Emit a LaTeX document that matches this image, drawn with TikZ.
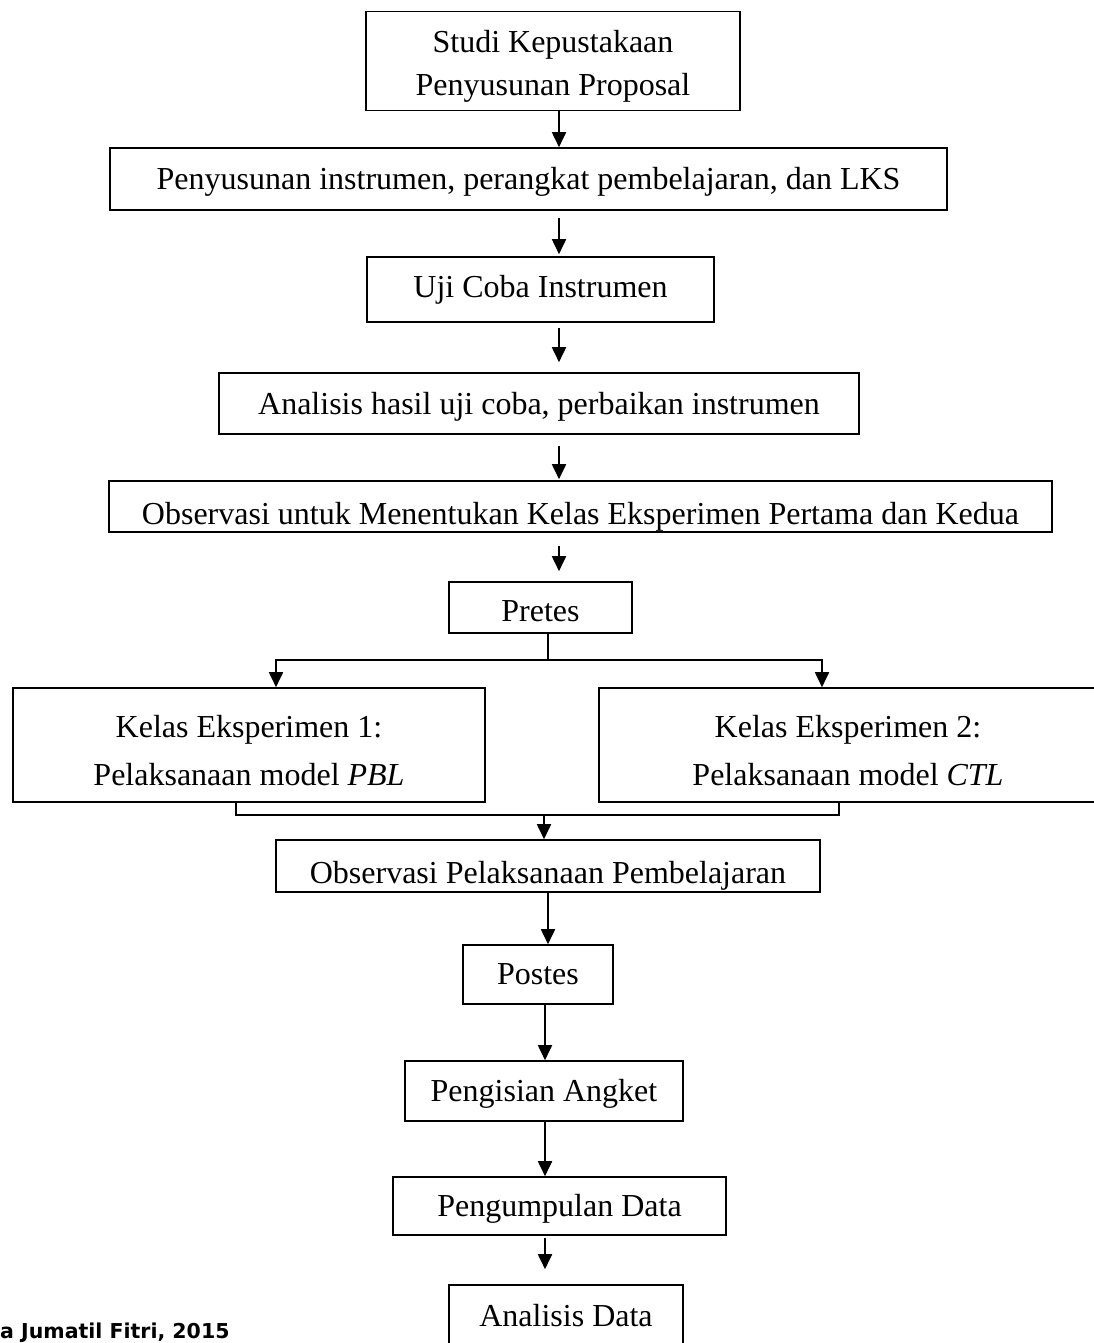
\documentclass[tikz,border=0pt]{standalone}
\usepackage{fontspec}
\setmainfont{Liberation Serif}
\newfontfamily\footfont{DejaVu Sans}
\usetikzlibrary{arrows.meta}

\tikzset{
  box/.style={draw, line width=1.6pt, fill=white, inner sep=0pt, align=center,
    font=\fontsize{32}{39}\selectfont},
  lowtext/.style={text height=28pt},
  cuttext/.style={font=\fontsize{32}{39}\selectfont, inner sep=0pt, anchor=base},
  arr/.style={line width=1.8pt, -{Triangle[length=15pt,width=14pt]}},
  link/.style={line width=1.4pt},
}

\begin{document}
\begin{tikzpicture}[x=1pt, y=-1pt]
      \useasboundingbox (0,0) rectangle (1094,1343);

      \coordinate (top) at (559,0);
      \coordinate (low) at (545,0);

      \node [box, minimum width=374pt, minimum height=99pt, font=\fontsize{32}{43}\selectfont] (studi) at (553,61) {\rule{0pt}{33pt}Studi Kepustakaan\\Penyusunan Proposal};
      \node [box, lowtext, minimum width=837pt, minimum height=62pt] (susun) at (528.5,179) {Penyusunan instrumen, perangkat pembelajaran, dan LKS};
      \node [box, minimum width=347pt, minimum height=65pt] (uji) at (540.5,289.5) {Uji Coba Instrumen};
      \node [box, lowtext, minimum width=640pt, minimum height=61pt] (analisis) at (539,403.5) {Analisis hasil uji coba, perbaikan instrumen};
      \node [box, minimum width=943pt, minimum height=51pt,
        path picture={\node [cuttext] at ([yshift=8pt]path picture bounding box.south) {Observasi untuk Menentukan Kelas Eksperimen Pertama dan Kedua};}] (observasi) at (580.5,506.5) {};

      \node [box, lowtext, minimum width=183pt, minimum height=51pt] (pretes) at (540.5,607.5) {Pretes};

      \node [box, minimum width=472pt, minimum height=114pt, font=\fontsize{32}{48}\selectfont] (kelasA) at (249,745) {\rule{0pt}{34pt}Kelas Eksperimen 1:\\Pelaksanaan model \textit{PBL}};
      \node [box, minimum width=498pt, minimum height=114pt, font=\fontsize{32}{48}\selectfont] (kelasB) at (848,745) {\rule{0pt}{34pt}Kelas Eksperimen 2:\\Pelaksanaan model \textit{CTL}};

      \node [box, minimum width=544pt, minimum height=52pt,
        path picture={\node [cuttext] at ([yshift=9pt]path picture bounding box.south) {Observasi Pelaksanaan Pembelajaran};}] (obspel) at (548,866) {};

      \node [box, minimum width=150pt, minimum height=59pt] (postes) at (538,974.5) {Postes};
      \node [box, lowtext, minimum width=278pt, minimum height=60pt] (angket) at (544,1091) {Pengisian Angket};
      \node [box, lowtext, minimum width=333pt, minimum height=58pt] (kumpul) at (559.5,1206) {Pengumpulan Data};
      \node [box, minimum width=234pt, minimum height=62pt] (anadata) at (566,1316) {Analisis Data};

      \node [font=\footfont\bfseries\fontsize{20.5}{24}\selectfont, inner sep=0pt, anchor=base west] (foot) at (0,1338) {a Jumatil Fitri, 2015};

      \draw [arr] (studi.south -| top) -- (susun.north -| top);
      \draw [arr, shorten <=7pt, shorten >=2pt] (susun.south -| top) -- (uji.north -| top);
      \draw [arr, shorten <=5pt, shorten >=10pt] (uji.south -| top) -- (analisis.north -| top);
      \draw [arr, shorten <=11pt, shorten >=1pt] (analisis.south -| top) -- (observasi.north -| top);
      \draw [arr, shorten <=13pt, shorten >=10pt] (observasi.south -| top) -- (pretes.north -| top);

      \coordinate (split) at (548,660);
      \draw [link] (pretes.south -| split) -- (split);
      \draw [arr] (split) -| ([xshift=27pt]kelasA.north);
      \draw [arr] (split) -| ([xshift=-26pt]kelasB.north);

      \coordinate (merge) at (544,815);
      \draw [link] ([xshift=-13pt]kelasA.south) |- (merge);
      \draw [link] ([xshift=-9pt]kelasB.south) |- (merge);
      \draw [arr] (merge) -- (obspel.north -| merge);

      \draw [arr] (obspel.south -| 548,0) -- (postes.north -| 548,0);
      \draw [arr] (postes.south -| low) -- (angket.north -| low);
      \draw [arr] (angket.south -| low) -- (kumpul.north -| low);
      \draw [arr, shorten <=2pt, shorten >=15pt] (kumpul.south -| low) -- (anadata.north -| low);
\end{tikzpicture}
\end{document}
